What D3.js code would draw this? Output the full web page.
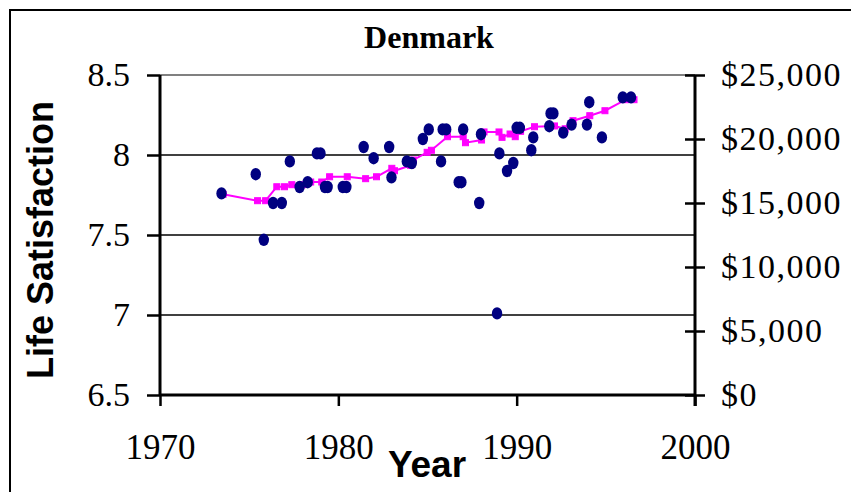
<!DOCTYPE html>
<html>
<head>
<meta charset="utf-8">
<script src="https://cdn.jsdelivr.net/npm/d3@7"></script>
<style>
  body { margin: 0; background: #fff; }
  svg { display: block; }
</style>
</head>
<body>
<div id="chart"></div>
<script>
// life satisfaction survey points (year, score)
var satYears = [1973.45, 1975.37, 1975.82, 1976.34, 1976.83, 1977.28, 1977.83, 1978.28, 1978.8, 1979.0,
                1979.25, 1979.4, 1980.25, 1980.45, 1981.42, 1981.98, 1982.85, 1982.98, 1983.84, 1984.12,
                1984.74, 1985.07, 1985.76, 1985.85, 1986.05, 1986.75, 1986.9, 1987.0, 1987.9, 1988.0,
                1988.9, 1989.03, 1989.46, 1989.81, 1990.0, 1990.18, 1990.82, 1990.93, 1991.83, 1991.9,
                1992.06, 1992.61, 1993.08, 1993.94, 1994.07, 1994.78, 1995.95, 1996.41];
var satValues = [7.76, 7.88, 7.47, 7.70, 7.70, 7.96, 7.80, 7.83, 8.01, 8.01,
                 7.80, 7.80, 7.80, 7.80, 8.05, 7.98, 8.05, 7.86, 7.96, 7.95,
                 8.10, 8.16, 7.96, 8.16, 8.16, 7.83, 7.83, 8.16, 7.70, 8.13,
                 7.01, 8.01, 7.90, 7.95, 8.17, 8.17, 8.03, 8.11, 8.18, 8.26,
                 8.26, 8.14, 8.19, 8.19, 8.33, 8.11, 8.36, 8.36];

// GDP per head (right axis)
var gdpYears = [1973.54, 1975.47, 1975.92, 1976.55, 1976.98, 1977.39, 1977.99, 1978.45, 1979.07, 1979.51,
                1980.5, 1981.53, 1982.14, 1983.0, 1983.15, 1984.05, 1984.21, 1984.98, 1985.22, 1986.12,
                1987.0, 1987.13, 1988.03, 1988.17, 1989.01, 1989.18, 1989.63, 1989.92, 1990.22, 1991.0,
                1992.12, 1992.72, 1993.16, 1994.1, 1994.95, 1996.11, 1996.58];
var gdpValues = [15680, 15180, 15180, 16270, 16270, 16430, 16430, 16640, 16640, 17050,
                 17050, 16900, 17050, 17710, 17520, 17940, 18360, 18960, 19120, 20180,
                 20180, 19710, 19920, 20550, 20550, 20130, 20390, 20180, 20600, 20960,
                 21020, 20800, 21430, 21820, 22210, 23070, 23070];

var yearTicks = [1970, 1980, 1990, 2000];
var satTicks = [6.5, 7, 7.5, 8, 8.5];
var gdpTicks = [0, 5000, 10000, 15000, 20000, 25000];

var width = 851, height = 492;
var margin = {top: 75, right: 156, bottom: 97, left: 160};
var plotW = width - margin.left - margin.right;
var plotH = height - margin.top - margin.bottom;
var serif = "Liberation Serif, Times New Roman, serif";
var sans = "Liberation Sans, Arial, sans-serif";

var svg = d3.select("#chart").append("svg")
    .attr("width", width)
    .attr("height", height);

// outer frame (only left and top show in the picture)
svg.append("rect")
    .attr("x", 10).attr("y", 10)
    .attr("width", 900).attr("height", 600)
    .attr("fill", "none")
    .attr("stroke", "#000")
    .attr("stroke-width", 2);

var g = svg.append("g")
    .attr("transform", "translate(" + margin.left + "," + margin.top + ")");

var x = d3.scaleLinear().domain([1970, 2000]).range([0, plotW]);
var y = d3.scaleLinear().domain([6.5, 8.5]).range([plotH, 0]);
var y2 = d3.scaleLinear().domain([0, 25000]).range([plotH, 0]);

// gridlines
g.selectAll(".grid")
    .data(satTicks.filter(function(d) { return d > 6.5; }))
  .enter().append("line")
    .attr("x1", 0).attr("x2", plotW)
    .attr("y1", function(d) { return y(d); })
    .attr("y2", function(d) { return y(d); })
    .attr("stroke", function(d) { return d == 8.5 ? "#808080" : "#000"; })
    .attr("stroke-width", function(d) { return d == 8.5 ? 2 : 1.3; });

// left axis
var leftAxis = g.append("g")
    .call(d3.axisLeft(y).tickValues(satTicks).tickSize(13).tickPadding(17)
        .tickFormat(function(d) { return d; }));
leftAxis.select(".domain").attr("stroke-width", 3).attr("d", "M0," + (plotH + 1) + "V0");
leftAxis.selectAll(".tick line").attr("stroke-width", 2.5);
leftAxis.selectAll("text")
    .attr("font-family", serif)
    .attr("font-size", 34)
    .attr("fill", "#000");

// right axis, ticks cross the line
var rightAxis = g.append("g")
    .attr("transform", "translate(" + plotW + ",0)")
    .call(d3.axisRight(y2).tickValues(gdpTicks).tickSize(10).tickPadding(16)
        .tickFormat(function(d) { return "$" + d3.format(",")(d); }));
rightAxis.select(".domain").attr("stroke-width", 3).attr("d", "M0,0V" + (plotH + 11));
rightAxis.selectAll(".tick line").attr("x1", -10).attr("stroke-width", 2.5);
rightAxis.selectAll("text")
    .attr("font-family", serif)
    .attr("font-size", 34)
    .attr("letter-spacing", 1.5)
    .attr("fill", "#000");

// bottom axis
var bottomAxis = g.append("g")
    .attr("transform", "translate(0," + plotH + ")")
    .call(d3.axisBottom(x).tickValues(yearTicks).tickSize(11).tickPadding(28)
        .tickFormat(d3.format("d")));
bottomAxis.select(".domain").attr("stroke-width", 3).attr("d", "M0,0H" + plotW);
bottomAxis.selectAll(".tick line").attr("stroke-width", 2.5);
bottomAxis.selectAll("text")
    .attr("font-family", serif)
    .attr("font-size", 35)
    .attr("fill", "#000");

// income line
var gdpData = gdpYears.map(function(d, i) { return {year: d, value: gdpValues[i]}; });
var line = d3.line()
    .x(function(d) { return x(d.year); })
    .y(function(d) { return y2(d.value); });

g.append("path")
    .datum(gdpData)
    .attr("fill", "none")
    .attr("stroke", "#ff00ff")
    .attr("stroke-width", 2)
    .attr("d", line);

g.selectAll(".sq")
    .data(gdpData)
  .enter().append("rect")
    .attr("x", function(d) { return x(d.year) - 3; })
    .attr("y", function(d) { return y2(d.value) - 3; })
    .attr("width", 6).attr("height", 6)
    .attr("fill", "#ff00ff")
    .attr("stroke", "#ff00ff")
    .attr("stroke-width", 1);

// satisfaction dots
var satData = satYears.map(function(d, i) { return {year: d, value: satValues[i]}; });
g.selectAll(".dot")
    .data(satData)
  .enter().append("ellipse")
    .attr("cx", function(d) { return x(d.year); })
    .attr("cy", function(d) { return y(d.value); })
    .attr("rx", 5.2).attr("ry", 6.2)
    .attr("fill", "#000080");

// title
svg.append("text")
    .attr("x", 429).attr("y", 48)
    .attr("text-anchor", "middle")
    .attr("font-family", serif)
    .attr("font-weight", "bold")
    .attr("font-size", 32)
    .text("Denmark");

// axis titles
svg.append("text")
    .attr("transform", "translate(53,240) rotate(-90)")
    .attr("text-anchor", "middle")
    .attr("font-family", sans)
    .attr("font-weight", "bold")
    .attr("font-size", 36)
    .text("Life Satisfaction");

svg.append("text")
    .attr("x", 427).attr("y", 477)
    .attr("text-anchor", "middle")
    .attr("font-family", sans)
    .attr("font-weight", "bold")
    .attr("font-size", 37)
    .text("Year");
</script>
</body>
</html>
